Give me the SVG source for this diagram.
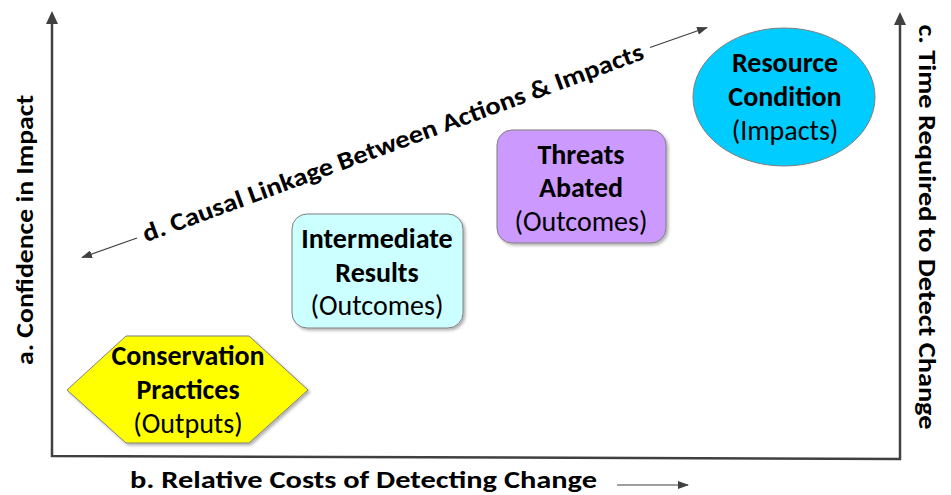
<svg xmlns="http://www.w3.org/2000/svg" width="951" height="495" viewBox="0 0 951 495">
<style>
text{font-family:Carlito,Lato,"Open Sans","Liberation Sans",sans-serif;fill:#000}
.b{font-weight:bold}
.lab{font-size:25px;font-weight:bold}
.nt{font-size:28px;text-anchor:middle}
.axis{fill:none;stroke:#404040;stroke-width:2.5}
.thin{fill:none;stroke:#404040;stroke-width:1.2}
.shape{stroke:#7f7f7f;stroke-width:1}
</style>
<defs>
<marker id="ahs" markerWidth="11" markerHeight="8" refX="10" refY="4" orient="auto" markerUnits="userSpaceOnUse" viewBox="0 0 11 8">
<path d="M0,0 L11,4 L0,8 Z" fill="#404040"/>
</marker>
<filter id="sh" x="-10%" y="-10%" width="130%" height="130%">
<feDropShadow dx="2" dy="2" stdDeviation="1.5" flood-color="#000" flood-opacity="0.3"/>
</filter>
</defs>
<rect width="951" height="495" fill="#fff"/>

<g id="axes">
<path class="axis" d="M52,24 L52,456 L900,459 L900,25"/>
<path d="M52,11 L46,24 L58,24 Z" fill="#404040"/>
<path d="M900,12 L894,25 L906,25 Z" fill="#404040"/>
</g>

<g id="connectors">
<line class="thin" x1="137" y1="238" x2="82" y2="257.5" marker-end="url(#ahs)"/>
<line class="thin" x1="650" y1="47.5" x2="707" y2="27.5" marker-end="url(#ahs)"/>
<line class="thin" x1="617" y1="485" x2="688" y2="485" marker-end="url(#ahs)"/>
</g>

<g id="labels">
<text class="lab" transform="translate(33,230) rotate(-90)" text-anchor="middle" textLength="270" lengthAdjust="spacingAndGlyphs">a. Confidence in Impact</text>
<text class="lab" x="130" y="488" font-size="24" textLength="467" lengthAdjust="spacingAndGlyphs">b. Relative Costs of Detecting Change</text>
<text class="lab" transform="translate(919,227) rotate(90)" text-anchor="middle" textLength="405" lengthAdjust="spacingAndGlyphs">c. Time Required to Detect Change</text>
<text class="lab" transform="translate(393,143) rotate(-20.19)" x="0" y="8" text-anchor="middle" font-size="25" textLength="532" lengthAdjust="spacingAndGlyphs">d. Causal Linkage Between Actions &amp; Impacts</text>
</g>

<g id="conservation-practices">
<polygon class="shape" filter="url(#sh)" fill="#ffff00" points="67,390 126,336 249,336 308,390 249,443 126,443"/>
<text class="nt b" x="188" y="365">Conservation</text>
<text class="nt b" x="188" y="399">Practices</text>
<text class="nt" x="188" y="433">(Outputs)</text>
</g>

<g id="intermediate-results">
<rect class="shape" filter="url(#sh)" fill="#ccffff" x="292" y="214" width="171" height="114" rx="15"/>
<text class="nt b" x="377" y="248">Intermediate</text>
<text class="nt b" x="377" y="282">Results</text>
<text class="nt" x="377" y="315">(Outcomes)</text>
</g>

<g id="threats-abated">
<rect class="shape" filter="url(#sh)" fill="#cc99ff" x="497" y="130" width="169" height="113" rx="15"/>
<text class="nt b" x="581" y="164">Threats</text>
<text class="nt b" x="581" y="197">Abated</text>
<text class="nt" x="581" y="231">(Outcomes)</text>
</g>

<g id="resource-condition">
<ellipse class="shape" fill="#00ccff" cx="784" cy="97" rx="91" ry="69"/>
<text class="nt b" x="785" y="72">Resource</text>
<text class="nt b" x="785" y="106">Condition</text>
<text class="nt" x="785" y="140">(Impacts)</text>
</g>
</svg>
